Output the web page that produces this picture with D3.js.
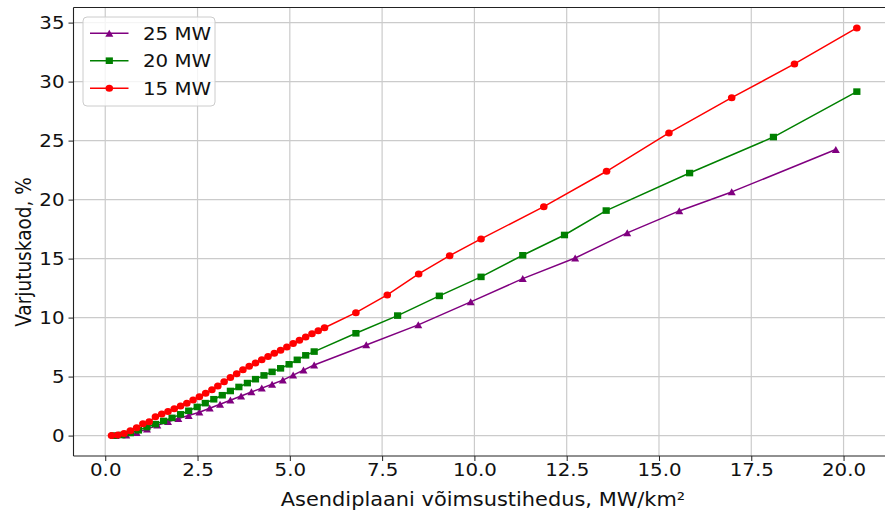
<!DOCTYPE html>
<html>
<head>
<meta charset="utf-8">
<script src="https://cdn.jsdelivr.net/npm/d3@7"></script>
<style>
  html, body { margin: 0; padding: 0; background: #fff; }
  svg { display: block; }
  text { font-family: "DejaVu Sans", sans-serif; fill: #111; }
</style>
</head>
<body>
<svg id="chart" width="885" height="513"></svg>
<script>
// ---------------- data ----------------
const seriesNames = ["25 MW", "20 MW", "15 MW"];

const x25 = [0.28,0.57,0.85,1.13,1.41,1.70,1.98,2.26,2.55,2.83,3.11,3.39,3.68,3.96,4.24,4.52,4.81,5.09,5.37,5.66,
             7.07,8.48,9.90,11.31,12.73,14.14,15.55,16.97,19.79];
const y25 = [0.0,0.05,0.25,0.55,0.88,1.18,1.45,1.70,1.98,2.32,2.65,3.00,3.35,3.70,4.02,4.35,4.70,5.12,5.55,5.98,
             7.68,9.38,11.33,13.30,15.05,17.18,19.04,20.65,24.24];

const x20 = [0.23,0.45,0.68,0.90,1.13,1.36,1.58,1.81,2.04,2.26,2.49,2.71,2.94,3.17,3.39,3.62,3.85,4.07,4.30,4.52,
             4.75,4.98,5.20,5.43,5.66,6.79,7.92,9.05,10.18,11.31,12.44,13.57,15.83,18.10,20.36];
const y20 = [0.0,0.05,0.22,0.45,0.72,0.97,1.24,1.50,1.80,2.10,2.43,2.75,3.08,3.42,3.78,4.12,4.45,4.78,5.10,5.40,
             5.70,6.04,6.42,6.80,7.12,8.67,10.17,11.84,13.45,15.28,17.00,19.07,22.25,25.30,29.15];

const x15 = [0.17,0.34,0.51,0.68,0.85,1.02,1.19,1.36,1.53,1.70,1.87,2.04,2.21,2.38,2.55,2.72,2.89,3.05,3.22,3.39,
             3.56,3.73,3.90,4.07,4.24,4.41,4.58,4.75,4.92,5.09,5.26,5.43,5.60,5.77,5.94,
             6.79,7.64,8.49,9.33,10.18,11.88,13.58,15.27,16.97,18.67,20.36];
const y15 = [0.0,0.04,0.18,0.42,0.66,1.00,1.18,1.60,1.82,2.05,2.27,2.50,2.73,3.02,3.30,3.58,3.88,4.20,4.57,4.92,
             5.25,5.58,5.88,6.16,6.43,6.70,6.97,7.24,7.50,7.80,8.08,8.35,8.62,8.88,9.14,
             10.42,11.92,13.70,15.25,16.67,19.40,22.40,25.65,28.64,31.50,34.55];

const xTicks = [0, 2.5, 5, 7.5, 10, 12.5, 15, 17.5, 20];
const yTicks = [0, 5, 10, 15, 20, 25, 30, 35];
const xLabel = "Asendiplaani võimsustihedus, MW/km²";
const yLabel = "Varjutuskaod, %";

// ---------------- layout ----------------
const SX = 1.1; // horizontal text stretch seen in the reference
const plot = { left: 73.5, right: 894.5, top: 7.5, bottom: 456 };
const svg = d3.select("#chart");

const x = d3.scaleLinear().domain([-0.86, 21.38]).range([plot.left, plot.right]);
const y = d3.scaleLinear().domain([-1.73, 36.28]).range([plot.bottom, plot.top]);

svg.append("defs").append("clipPath").attr("id", "clip")
  .append("rect").attr("x", plot.left).attr("y", plot.top)
  .attr("width", plot.right - plot.left).attr("height", plot.bottom - plot.top);

// grid
const grid = svg.append("g").attr("stroke", "#cbcbcb").attr("stroke-width", 1.2);
grid.selectAll("line.gx").data(xTicks).join("line")
  .attr("x1", d => x(d)).attr("x2", d => x(d)).attr("y1", plot.top).attr("y2", plot.bottom);
grid.selectAll("line.gy").data(yTicks).join("line")
  .attr("x1", plot.left).attr("x2", plot.right).attr("y1", d => y(d)).attr("y2", d => y(d));

// axes
const xAxis = svg.append("g").attr("transform", `translate(0,${plot.bottom})`)
  .call(d3.axisBottom(x).tickValues(xTicks).tickFormat(d3.format(".1f")).tickSize(5).tickPadding(5).tickSizeOuter(0));
const yAxis = svg.append("g").attr("transform", `translate(${plot.left},0)`)
  .call(d3.axisLeft(y).tickValues(yTicks).tickFormat(d3.format("d")).tickSize(5).tickPadding(4).tickSizeOuter(0));
[xAxis, yAxis].forEach(a => {
  a.select(".domain").remove();
  a.selectAll(".tick line").attr("stroke", "#222").attr("stroke-width", 1);
  a.selectAll(".tick text").attr("font-size", 18).attr("fill", "#111")
    .attr("font-family", "DejaVu Sans");
});
xAxis.selectAll(".tick text").attr("dy", null).attr("y", 20)
  .attr("transform", `scale(${SX},1)`);
yAxis.selectAll(".tick text").attr("x", null).attr("dy", "0.35em")
  .attr("transform", `translate(-9,0) scale(${SX},1)`);

// spines
const sp = svg.append("g").attr("stroke", "#222").attr("stroke-width", 1.1).attr("fill", "none");
sp.append("line").attr("x1", plot.left).attr("x2", plot.left).attr("y1", plot.top).attr("y2", plot.bottom);
sp.append("line").attr("x1", plot.left).attr("x2", plot.right).attr("y1", plot.bottom).attr("y2", plot.bottom);
sp.append("line").attr("x1", plot.left).attr("x2", plot.right).attr("y1", plot.top).attr("y2", plot.top);

// axis labels
svg.append("text").attr("transform", `translate(483,506) scale(${SX},1)`)
  .attr("text-anchor", "middle").attr("font-size", 19).text(xLabel);
svg.append("text").attr("transform", `translate(31,252) scale(${SX},1) rotate(-90)`)
  .attr("text-anchor", "middle").attr("font-size", 18.5).text(yLabel);

// markers
function marker(g, shape, color, cx, cy) {
  if (shape === "circle") {
    g.append("ellipse").attr("cx", cx).attr("cy", cy).attr("rx", 3.8).attr("ry", 3.5).attr("fill", color);
  } else if (shape === "square") {
    g.append("rect").attr("x", cx - 3.6).attr("y", cy - 3.3).attr("width", 7.2).attr("height", 6.6).attr("fill", color);
  } else {
    g.append("path").attr("d", `M${cx},${cy - 3.6}L${cx + 4},${cy + 3.4}L${cx - 4},${cy + 3.4}Z`).attr("fill", color);
  }
}

const series = [
  { name: seriesNames[0], xs: x25, ys: y25, color: "#800080", shape: "triangle" },
  { name: seriesNames[1], xs: x20, ys: y20, color: "#008000", shape: "square" },
  { name: seriesNames[2], xs: x15, ys: y15, color: "#ff0000", shape: "circle" }
];

const plotG = svg.append("g").attr("clip-path", "url(#clip)");
const line = d3.line().x(d => x(d[0])).y(d => y(d[1]));
series.forEach(s => {
  const pts = s.xs.map((v, i) => [v, s.ys[i]]);
  const g = plotG.append("g");
  g.append("path").datum(pts).attr("d", line).attr("fill", "none")
    .attr("stroke", s.color).attr("stroke-width", 1.5).attr("stroke-linejoin", "round");
  pts.forEach(p => marker(g, s.shape, s.color, x(p[0]), y(p[1])));
});

// legend
const lg = svg.append("g");
lg.append("rect").attr("x", 83).attr("y", 17).attr("width", 132).attr("height", 89)
  .attr("rx", 4).attr("fill", "#fff").attr("fill-opacity", 0.8)
  .attr("stroke", "#cccccc").attr("stroke-width", 1);
const rowY = [33.3, 60.7, 88.3];
series.forEach((s, i) => {
  const cy = rowY[i];
  lg.append("line").attr("x1", 90).attr("x2", 128.5).attr("y1", cy).attr("y2", cy)
    .attr("stroke", s.color).attr("stroke-width", 1.5);
  marker(lg, s.shape, s.color, 109.3, cy);
  lg.append("text").attr("transform", `translate(143,${cy + 6.5}) scale(${SX},1)`)
    .attr("font-size", 18).text(s.name);
});
</script>
</body>
</html>
